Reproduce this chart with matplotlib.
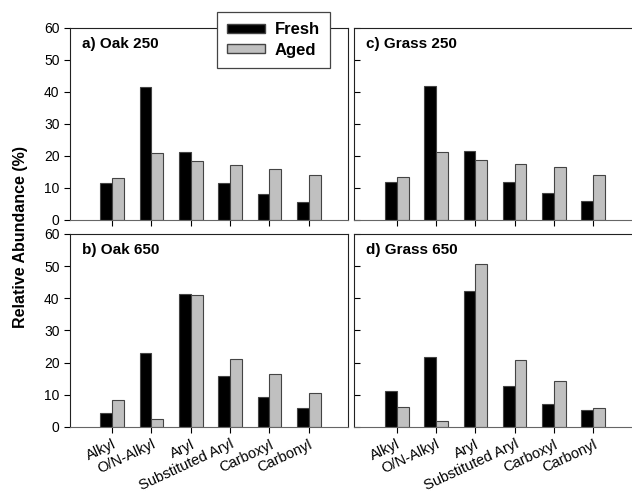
import matplotlib.pyplot as plt
import numpy as np
from matplotlib.patches import Patch

plt.rcParams['font.family'] = ['Liberation Sans', 'DejaVu Sans']

categories = ["Alkyl", "O/N-Alkyl", "Aryl", "Substituted Aryl", "Carboxyl", "Carbonyl"]

oak250_fresh = [11.5, 41.5, 21.3, 11.7, 8.0, 5.7]
oak250_aged = [13.0, 20.8, 18.3, 17.1, 16.0, 13.9]
grass250_fresh = [11.8, 41.9, 21.6, 12.0, 8.3, 5.9]
grass250_aged = [13.4, 21.1, 18.6, 17.4, 16.4, 14.2]
oak650_fresh = [4.5, 23.0, 41.3, 16.0, 9.3, 5.9]
oak650_aged = [8.4, 2.5, 41.0, 21.0, 16.5, 10.7]
grass650_fresh = [11.3, 21.8, 42.2, 12.6, 7.3, 5.2]
grass650_aged = [6.3, 2.0, 50.6, 20.7, 14.4, 6.0]

# title, fresh, aged, axes rect, xlim, left column, bottom row
panels = [
    ("a) Oak 250", oak250_fresh, oak250_aged, [0.1108, 0.5538, 0.44, 0.3895], (-0.07, 7.0), True, False),
    ("c) Grass 250", grass250_fresh, grass250_aged, [0.5601, 0.5538, 0.46, 0.3895], (-0.09, 7.31), False, False),
    ("b) Oak 650", oak650_fresh, oak650_aged, [0.1108, 0.1339, 0.44, 0.3915], (-0.07, 7.0), True, True),
    ("d) Grass 650", grass650_fresh, grass650_aged, [0.5601, 0.1339, 0.46, 0.3915], (-0.09, 7.31), False, True),
]

fig = plt.figure(figsize=(6.32, 4.93), dpi=100)
x = np.arange(1, len(categories) + 1)
w = 0.3
gray = "#c0c0c0"
edge = "#444444"

for title, fresh, aged, pos, xl, left, bottom in panels:
    ax = fig.add_axes(pos)
    ax.bar(x - w / 2, fresh, w, color="black", edgecolor=edge, linewidth=0.8)
    ax.bar(x + w / 2, aged, w, color=gray, edgecolor=edge, linewidth=0.8)
    ax.set_xlim(*xl)
    ax.set_ylim(0, 60)
    ax.set_yticks(range(0, 61, 10))
    ax.set_xticks(x)
    ax.spines['bottom'].set_color("#666666")
    for s in ['top', 'left', 'right']:
        ax.spines[s].set_color("#222222")
    ax.tick_params(axis='x', direction='out', length=4)
    if left:
        ax.tick_params(axis='y', direction='out', length=4, labelsize=10)
    else:
        ax.tick_params(axis='y', direction='in', length=4, labelleft=False)
    if bottom:
        ax.set_xticklabels(categories, rotation=25, ha='right', rotation_mode='anchor', fontsize=10.5)
    else:
        ax.set_xticklabels([])
    ax.text(0.043, 0.918, title, transform=ax.transAxes, fontsize=11,
            fontweight='bold', va='center', ha='left')

fig.text(0.032, 0.52, "Relative Abundance (%)", rotation=90, fontsize=11.5,
         fontweight='bold', ha='center', va='center')

handles = [Patch(facecolor="black", edgecolor=edge), Patch(facecolor=gray, edgecolor=edge)]
leg = fig.legend(handles, ["Fresh", "Aged"], loc='upper left', bbox_to_anchor=(0.3434, 0.9757),
                 borderaxespad=0, prop={'weight': 'bold', 'size': 12}, fancybox=False,
                 framealpha=1, edgecolor="#444444", handlelength=2.3, handleheight=0.45,
                 borderpad=0.6, labelspacing=0.35, handletextpad=0.55)
leg.get_frame().set_linewidth(0.9)
leg.set_zorder(10)

fig.savefig("out.png", dpi=100)
